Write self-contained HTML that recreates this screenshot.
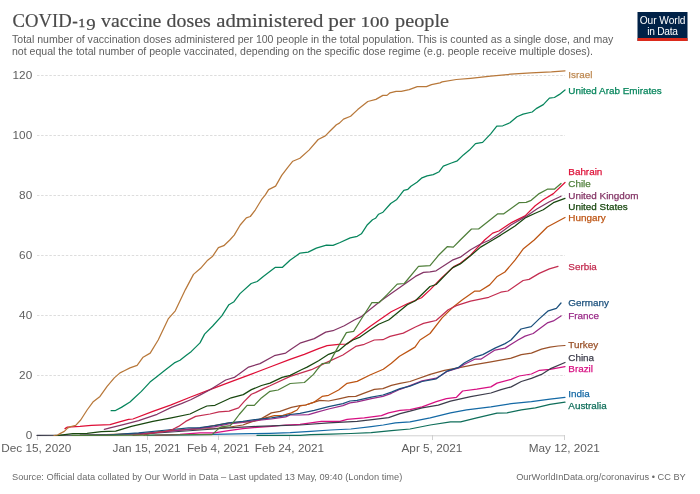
<!DOCTYPE html>
<html><head><meta charset="utf-8">
<style>
html,body{margin:0;padding:0;background:#fff;}
body{width:700px;height:494px;overflow:hidden;position:relative;font-family:"Liberation Sans",sans-serif;}
svg{position:absolute;left:0;top:0;will-change:transform;}
text{font-family:"Liberation Sans",sans-serif;}
.title text{font-family:"Liberation Serif",serif;font-size:19.4px;fill:#4a4a4a;stroke:#4a4a4a;stroke-width:0.18px;}
.sub{font-size:10.56px;fill:#5e5e5e;}
.tick{font-size:11.75px;fill:#5e5e5e;}
.lab{font-size:9.88px;stroke-width:0.25px;}
.foot{font-size:9.25px;fill:#6a6a6a;}
.grid{stroke:#ddd;stroke-width:1;stroke-dasharray:2.47,1.65;fill:none;}
.ln{fill:none;stroke-width:1.24;stroke-linejoin:round;stroke-linecap:round;}
</style></head><body>
<svg width="700" height="494" viewBox="0 0 700 494">
<rect width="700" height="494" fill="#fff"/>
<g class="title">
<text x="12.6" y="27.3" textLength="59.0" lengthAdjust="spacingAndGlyphs">COVID</text>
<text x="72.3" y="27.3" textLength="5.6" lengthAdjust="spacingAndGlyphs">-</text>
<text x="78.6" y="27.3" textLength="6.6" lengthAdjust="spacingAndGlyphs" style="font-size:13.2px;stroke-width:0.45px">1</text>
<text x="86.2" y="29.7" textLength="9.4" lengthAdjust="spacingAndGlyphs" style="font-size:16.8px">9</text>
<text x="101.1" y="27.3" textLength="60.3" lengthAdjust="spacingAndGlyphs">vaccine</text>
<text x="166.6" y="27.3" textLength="44.2" lengthAdjust="spacingAndGlyphs">doses</text>
<text x="216.3" y="27.3" textLength="107.1" lengthAdjust="spacingAndGlyphs">administered</text>
<text x="328.3" y="27.3" textLength="27.1" lengthAdjust="spacingAndGlyphs">per</text>
<text x="360.4" y="27.3" textLength="28.7" lengthAdjust="spacingAndGlyphs" style="font-size:13.6px">100</text>
<text x="395.1" y="27.3" textLength="54.0" lengthAdjust="spacingAndGlyphs">people</text>
</g>
<text class="sub" x="12" y="42.6">Total number of vaccination doses administered per 100 people in the total population. This is counted as a single dose, and may</text>
<text class="sub" x="12" y="55.2">not equal the total number of people vaccinated, depending on the specific dose regime (e.g. people receive multiple doses).</text>
<!-- logo -->
<rect x="637.5" y="12" width="50" height="29" fill="#002147"/>
<rect x="637.5" y="38" width="50" height="3" fill="#dc2a1b"/>
<text x="662.6" y="24" text-anchor="middle" font-size="10.2" fill="#fff" letter-spacing="-0.05">Our World</text>
<text x="662.5" y="35" text-anchor="middle" font-size="10.2" fill="#fff" letter-spacing="-0.25">in Data</text>
<!-- grid -->
<g class="grid">
<line x1="37" x2="565" y1="75.5" y2="75.5"/>
<line x1="37" x2="565" y1="135.5" y2="135.5"/>
<line x1="37" x2="565" y1="195.5" y2="195.5"/>
<line x1="37" x2="565" y1="255.5" y2="255.5"/>
<line x1="37" x2="565" y1="315.5" y2="315.5"/>
<line x1="37" x2="565" y1="375.5" y2="375.5"/>
</g>
<g class="tick" text-anchor="end">
<text x="32.2" y="79">120</text><text x="32.2" y="139">100</text><text x="32.2" y="199">80</text>
<text x="32.2" y="259">60</text><text x="32.2" y="319">40</text><text x="32.2" y="379">20</text><text x="32.2" y="439">0</text>
</g>
<line x1="37" x2="565" y1="435.8" y2="435.8" stroke="#ccc" stroke-width="0.9"/>
<g stroke="#ccc" stroke-width="0.9">
<line x1="37.5" x2="37.5" y1="435" y2="440"/><line x1="147.5" x2="147.5" y1="435" y2="440"/><line x1="218.5" x2="218.5" y1="435" y2="440"/>
<line x1="289.5" x2="289.5" y1="435" y2="440"/><line x1="432.5" x2="432.5" y1="435" y2="440"/><line x1="564.5" x2="564.5" y1="435" y2="440"/>
</g>
<g class="tick" text-anchor="middle">
<text x="36.3" y="452">Dec 15, 2020</text><text x="146.5" y="452">Jan 15, 2021</text><text x="218.3" y="452">Feb 4, 2021</text>
<text x="289.4" y="452">Feb 24, 2021</text><text x="431.9" y="452">Apr 5, 2021</text><text x="564.3" y="452">May 12, 2021</text>
</g>
<text class="foot" x="12" y="480">Source: Official data collated by Our World in Data – Last updated 13 May, 09:40 (London time)</text>
<text class="foot" x="685.8" y="480" text-anchor="end">OurWorldInData.org/coronavirus • CC BY</text>
<!--LINES-->
<path class="ln" stroke="#0F6E5A" d="M257.0,435.4 L300.0,435.3 L310.5,434.7 L330.7,434.1 L350.9,433.5 L371.2,432.7 L391.4,430.6 L410.0,429.0 L430.2,425.0 L450.5,421.9 L460.6,421.9 L476.8,417.9 L497.0,413.2 L507.1,412.8 L521.3,409.8 L535.4,407.8 L550.0,404.3 L565.0,402.2"/>
<path class="ln" stroke="#1469A5" d="M147.0,435.4 L200.0,434.6 L250.0,433.6 L270.0,433.3 L290.2,432.7 L310.5,431.4 L330.7,430.0 L350.9,429.0 L371.2,426.6 L383.3,425.0 L395.4,422.9 L410.0,421.9 L430.2,417.9 L450.5,412.8 L466.6,409.8 L490.9,406.8 L511.2,403.7 L531.4,401.7 L550.0,399.1 L565.0,397.3"/>
<path class="ln" stroke="#9A5129" d="M144.0,435.2 L150.0,433.5 L160.0,431.5 L172.0,430.5 L190.0,429.5 L214.0,428.5 L230.0,427.0 L242.9,425.0 L248.6,422.9 L261.4,418.6 L271.4,412.9 L280.0,411.4 L291.4,407.4 L300.0,405.7 L305.7,405.0 L314.3,402.1 L320.0,400.4 L328.6,401.0 L340.0,398.6 L348.6,396.7 L355.7,396.4 L362.9,393.6 L374.3,389.3 L382.9,388.6 L391.4,385.3 L400.0,383.3 L410.0,381.5 L430.2,374.4 L444.4,370.3 L460.6,367.3 L474.7,364.7 L490.9,361.8 L511.2,358.2 L521.3,354.6 L531.4,353.1 L541.5,349.1 L550.0,347.1 L558.0,346.0 L565.0,345.5"/>
<path class="ln" stroke="#BD5412" d="M80.0,435.4 L140.0,433.5 L170.0,431.0 L200.0,428.2 L228.6,423.1 L257.1,420.7 L265.7,417.9 L274.3,415.7 L282.9,415.4 L291.4,412.9 L297.1,410.0 L300.0,406.0 L305.7,405.0 L314.3,402.1 L322.1,396.4 L328.6,395.3 L338.6,390.0 L347.1,383.3 L357.1,381.4 L370.0,375.0 L383.3,369.3 L391.4,363.3 L399.5,356.2 L410.0,350.1 L415.0,347.1 L420.0,340.0 L430.0,333.5 L442.1,317.9 L452.3,307.8 L462.4,299.7 L474.5,291.2 L479.6,291.2 L489.7,284.9 L496.8,276.8 L504.9,272.0 L515.0,260.2 L523.1,249.1 L534.2,240.0 L547.3,227.0 L565.0,217.5"/>
<path class="ln" stroke="#D70F82" d="M155.0,435.3 L180.0,434.3 L200.0,432.9 L214.3,432.9 L228.6,430.7 L242.9,428.6 L257.1,427.4 L271.4,426.4 L285.7,425.0 L300.0,424.3 L321.4,421.4 L340.0,421.4 L347.1,419.3 L364.3,417.9 L381.4,415.7 L388.6,412.9 L400.0,410.4 L410.0,409.6 L422.1,406.8 L436.3,401.7 L446.4,398.7 L456.5,397.3 L462.6,391.0 L476.8,389.2 L490.9,386.9 L497.0,383.1 L511.2,379.4 L519.2,376.0 L531.4,374.0 L539.5,370.3 L550.0,369.3 L565.0,366.6"/>
<path class="ln" stroke="#3C3C4B" d="M37.0,435.4 L100.0,435.0 L150.0,433.5 L200.0,430.0 L228.6,427.9 L257.1,426.4 L285.7,425.4 L300.0,425.0 L328.6,422.9 L357.1,421.4 L374.3,419.3 L388.6,417.6 L400.0,413.6 L410.0,411.2 L422.1,407.8 L438.3,405.1 L450.5,401.1 L470.7,396.6 L490.9,393.0 L501.0,389.6 L511.2,386.9 L521.3,381.5 L531.4,378.4 L541.5,374.4 L550.0,368.9 L565.0,362.5"/>
<path class="ln" stroke="#9A2A88" d="M80.0,435.4 L110.0,435.0 L138.6,434.0 L167.1,431.5 L188.6,429.3 L214.3,426.9 L228.6,424.0 L242.9,422.5 L257.1,420.4 L271.4,419.0 L285.7,416.8 L290.2,415.0 L300.0,415.0 L308.6,414.7 L317.1,412.1 L328.6,409.0 L342.9,405.7 L350.0,402.9 L357.1,401.9 L371.4,398.6 L382.9,396.4 L391.4,393.3 L400.0,389.3 L410.0,385.6 L422.1,380.9 L436.3,378.2 L446.4,372.0 L446.4,371.6 L458.6,367.9 L464.6,364.3 L474.7,359.2 L480.8,359.2 L495.0,350.1 L505.1,348.1 L518.0,340.0 L525.1,336.1 L533.2,333.5 L539.2,329.0 L547.3,322.9 L553.4,320.9 L561.0,315.9"/>
<path class="ln" stroke="#1A4F7C" d="M80.0,435.4 L110.0,434.8 L138.6,432.9 L167.1,430.0 L188.6,427.9 L200.0,427.6 L214.3,425.7 L228.6,422.9 L242.9,421.4 L257.1,419.3 L271.4,417.9 L285.7,415.7 L290.2,414.5 L300.0,413.3 L314.3,410.4 L328.6,406.7 L342.9,403.6 L350.0,401.0 L357.1,400.4 L371.4,397.1 L382.9,395.0 L391.4,392.1 L400.0,388.6 L410.0,386.1 L422.1,381.5 L436.3,378.8 L446.4,371.4 L458.6,367.3 L464.6,362.7 L474.7,357.2 L482.8,354.6 L495.0,348.1 L505.1,343.6 L511.0,340.0 L521.0,329.0 L531.2,326.6 L539.2,318.9 L548.3,310.8 L556.4,308.4 L561.0,303.0"/>
<path class="ln" stroke="#DE0F37" d="M65.0,428.6 L67.4,427.1 L80.0,426.4 L91.4,425.4 L110.0,424.6 L118.6,422.1 L128.6,419.3 L132.9,419.0 L152.9,411.4 L170.5,405.1 L190.7,397.0 L210.0,389.7 L231.2,381.7 L251.4,374.1 L270.0,367.0 L290.0,359.3 L304.3,354.3 L318.6,348.6 L327.1,345.7 L338.6,344.3 L347.1,344.0 L352.9,339.3 L361.4,332.9 L370.0,326.4 L379.3,320.0 L391.2,311.8 L407.3,303.7 L421.5,297.7 L430.0,289.9 L442.1,277.4 L454.3,266.3 L460.3,263.3 L470.5,255.2 L484.6,240.0 L492.7,233.1 L498.8,231.0 L510.9,222.9 L525.1,215.9 L535.2,205.7 L543.3,199.7 L553.4,193.6 L565.0,182.5"/>
<path class="ln" stroke="#C32D50" d="M133.0,435.3 L150.0,433.5 L165.0,431.5 L172.9,429.3 L178.6,426.4 L185.7,421.4 L195.7,416.4 L210.0,414.0 L219.0,411.8 L229.1,411.2 L238.6,407.9 L244.3,401.4 L251.4,394.3 L255.4,392.6 L263.5,388.6 L270.0,385.8 L290.2,376.4 L311.4,369.7 L325.7,362.9 L342.9,355.0 L355.7,346.4 L364.3,344.3 L374.3,340.0 L382.9,339.7 L390.0,336.4 L403.3,333.1 L415.4,327.0 L423.5,323.4 L430.0,321.9 L436.1,320.5 L448.2,309.8 L456.3,305.7 L470.5,301.1 L488.7,297.3 L500.8,292.2 L507.9,291.0 L523.1,280.5 L529.1,279.4 L539.2,273.4 L549.4,268.9 L558.0,266.3"/>
<path class="ln" stroke="#18470F" d="M55.0,435.5 L58.6,435.4 L72.9,433.6 L87.1,433.3 L101.4,431.7 L115.7,431.1 L131.4,426.4 L152.9,421.4 L171.4,417.9 L190.0,414.0 L200.8,408.8 L206.9,406.0 L215.0,405.3 L231.2,397.8 L243.3,394.6 L251.4,389.6 L261.5,385.5 L270.0,383.1 L282.1,377.4 L290.2,375.4 L301.4,369.7 L307.1,367.1 L318.6,360.7 L328.6,354.3 L338.6,350.7 L347.1,343.6 L352.9,340.0 L360.0,337.1 L370.0,330.0 L378.6,324.3 L388.6,320.0 L391.2,317.9 L407.3,304.7 L415.4,300.7 L430.0,286.5 L436.1,284.5 L452.3,267.9 L460.3,263.9 L470.5,255.8 L480.6,247.1 L492.7,240.0 L500.8,235.1 L515.0,226.0 L525.1,217.9 L535.2,213.2 L543.3,209.8 L553.4,202.7 L565.0,198.3"/>
<path class="ln" stroke="#843566" d="M104.3,429.3 L110.0,427.9 L124.3,424.3 L138.6,420.7 L157.1,414.3 L171.4,407.4 L181.4,403.6 L190.7,399.7 L200.8,394.6 L210.0,389.7 L225.7,380.0 L234.3,377.4 L248.6,367.1 L260.0,363.6 L274.3,355.7 L285.7,353.1 L291.4,348.9 L300.0,343.2 L314.3,338.6 L325.7,332.1 L332.9,330.7 L344.3,325.7 L354.3,320.0 L360.8,316.9 L370.9,308.8 L381.0,300.7 L391.2,293.6 L403.3,284.9 L415.4,276.4 L423.5,272.4 L430.0,271.9 L436.1,270.8 L452.3,260.2 L460.3,257.2 L470.5,249.7 L480.6,244.0 L489.7,240.0 L498.8,234.1 L510.9,225.0 L525.1,216.9 L537.2,208.8 L549.4,201.7 L561.0,196.2"/>
<path class="ln" stroke="#4F7F3A" d="M72.0,435.4 L150.0,435.1 L200.0,434.6 L212.1,434.6 L218.6,428.6 L221.4,426.9 L230.0,425.7 L232.9,422.9 L239.2,414.5 L247.1,405.4 L254.3,405.4 L261.4,397.9 L270.0,391.3 L278.1,390.0 L290.2,383.5 L304.4,382.5 L313.5,374.4 L317.1,369.7 L322.1,363.6 L329.3,362.9 L337.1,348.6 L346.4,332.6 L353.6,331.4 L360.7,320.0 L371.9,302.7 L379.0,302.7 L387.1,294.6 L397.2,284.1 L404.3,283.5 L418.5,266.3 L430.0,265.6 L438.1,255.8 L447.2,246.7 L453.3,247.1 L460.3,240.0 L471.5,229.0 L478.6,229.0 L488.7,220.9 L497.8,213.8 L503.8,213.8 L519.0,202.7 L526.1,202.3 L531.2,200.3 L539.2,193.6 L547.3,189.2 L554.4,189.2 L561.0,183.5"/>
<path class="ln" stroke="#06855C" d="M111.1,410.7 L115.0,410.7 L121.4,407.4 L130.0,402.0 L132.9,399.3 L141.4,391.4 L150.0,382.1 L157.1,376.4 L164.3,370.7 L174.3,362.9 L180.0,360.3 L185.7,355.7 L191.4,351.4 L200.0,342.9 L204.6,334.1 L212.7,326.0 L221.8,315.9 L228.9,304.7 L234.0,301.7 L240.0,293.6 L251.2,283.5 L257.2,281.5 L263.3,276.4 L275.4,267.3 L282.5,267.3 L290.0,260.2 L300.1,253.1 L308.2,252.1 L316.3,248.1 L326.4,245.1 L333.0,245.4 L340.1,242.5 L350.2,237.9 L357.3,236.3 L361.4,233.8 L367.4,224.7 L372.5,219.7 L375.5,218.3 L378.6,214.2 L383.0,212.2 L390.7,203.5 L396.8,199.4 L403.8,190.3 L407.9,189.3 L410.9,186.3 L417.0,182.3 L422.0,177.8 L427.1,175.8 L433.2,174.6 L439.2,171.7 L443.3,166.1 L451.4,163.0 L457.3,160.8 L463.4,154.9 L469.4,150.1 L475.5,143.6 L482.6,142.4 L490.7,133.9 L496.8,126.2 L502.8,125.8 L509.9,122.8 L517.0,116.7 L523.1,114.1 L532.2,112.0 L536.2,108.6 L543.3,104.6 L549.4,98.1 L554.4,97.5 L559.5,94.4 L565.0,90.0"/>
<path class="ln" stroke="#B8783A" d="M54.0,435.5 L57.5,435.0 L60.0,433.6 L64.3,431.4 L67.9,427.9 L71.0,426.5 L75.7,425.4 L80.7,420.0 L87.1,410.0 L92.9,402.1 L100.0,396.4 L107.1,386.4 L114.3,377.9 L120.0,372.9 L124.3,370.7 L130.0,367.9 L137.1,365.3 L143.1,357.2 L150.2,353.1 L158.2,340.0 L168.2,318.9 L175.3,310.8 L185.4,289.6 L193.5,274.4 L200.6,268.3 L207.7,260.2 L212.7,256.2 L218.4,247.7 L223.8,245.7 L229.8,240.0 L234.2,235.1 L240.2,225.0 L246.3,217.9 L250.3,216.5 L255.4,209.8 L261.5,199.7 L265.5,194.6 L268.6,189.6 L275.6,186.1 L281.7,175.4 L287.8,167.3 L292.8,161.2 L299.9,158.2 L309.0,150.1 L318.2,139.5 L325.3,135.9 L330.3,130.8 L336.4,124.7 L339.4,123.1 L343.5,119.1 L350.6,116.2 L357.7,109.6 L367.8,101.5 L375.9,99.4 L382.9,95.4 L387.0,95.4 L390.0,92.8 L396.1,91.4 L401.2,91.3 L409.2,89.6 L417.3,86.6 L426.4,86.6 L431.5,84.6 L440.0,82.9 L442.1,81.9 L456.3,79.5 L470.5,78.3 L490.7,76.2 L510.9,74.2 L531.2,72.8 L551.4,71.8 L565.0,70.8"/>
<!--/LINES-->
<!--LABELS-->
<text class="lab" x="568.3" y="78.4" fill="#BD8850" stroke="#BD8850">Israel</text>
<text class="lab" x="568.3" y="93.5" fill="#06855C" stroke="#06855C">United Arab Emirates</text>
<text class="lab" x="568.3" y="175.4" fill="#DE0F37" stroke="#DE0F37">Bahrain</text>
<text class="lab" x="568.3" y="198.6" fill="#843566" stroke="#843566">United Kingdom</text>
<text class="lab" x="568.3" y="209.9" fill="#18470F" stroke="#18470F">United States</text>
<text class="lab" x="568.3" y="269.5" fill="#C32D50" stroke="#C32D50">Serbia</text>
<text class="lab" x="568.3" y="187.0" fill="#4F7F3A" stroke="#4F7F3A">Chile</text>
<text class="lab" x="568.3" y="220.8" fill="#BD5412" stroke="#BD5412">Hungary</text>
<text class="lab" x="568.3" y="306.3" fill="#1A4F7C" stroke="#1A4F7C">Germany</text>
<text class="lab" x="568.3" y="319.1" fill="#9A2A88" stroke="#9A2A88">France</text>
<text class="lab" x="568.3" y="348.0" fill="#9A5129" stroke="#9A5129">Turkey</text>
<text class="lab" x="568.3" y="372.3" fill="#D70F82" stroke="#D70F82">Brazil</text>
<text class="lab" x="568.3" y="361.0" fill="#3C3C4B" stroke="#3C3C4B">China</text>
<text class="lab" x="568.3" y="396.9" fill="#1469A5" stroke="#1469A5">India</text>
<text class="lab" x="568.3" y="408.7" fill="#0F6E5A" stroke="#0F6E5A">Australia</text>
<!--/LABELS-->
</svg>
</body></html>
